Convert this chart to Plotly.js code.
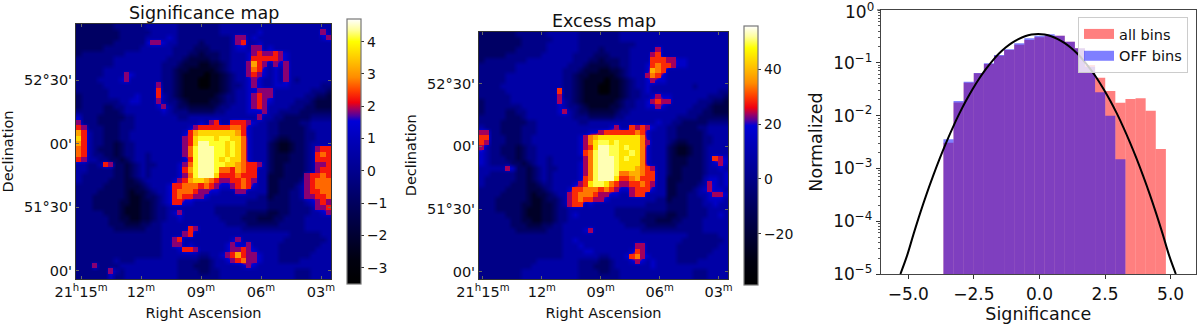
<!DOCTYPE html>
<html><head><meta charset="utf-8">
<script src="https://cdn.plot.ly/plotly-3.0.1.min.js"></script>
<style>html,body{margin:0;padding:0;background:#fff}#c{width:1200px;height:325px}</style>
</head><body><div id="c"></div>
<script>
// Colour map (fraction of the bar, colour)
const heatColors = [
 [0,'#000000'],[0.09,'#00000f'],[0.19,'#000035'],[0.31,'#000060'],[0.43,'#000090'],
 [0.55,'#0000bb'],[0.615,'#0000d8'],[0.635,'#5000a0'],[0.66,'#a00060'],[0.685,'#f00010'],
 [0.73,'#ff4000'],[0.78,'#ff8c00'],[0.84,'#ffc000'],[0.915,'#ffff00'],[0.96,'#ffffa0'],[1,'#ffffff']];

// Levels used by the hand-read map rows below: level code -> map value
const levelCodes = '0123456789abcd';
const sigLevels = [-3.2,-2.3,-1.6,-0.9,-0.2,0.5,1.2,1.85,2.25,2.7,3.1,3.6,4.1,4.4];
const excessLevels = [-35,-24,-16,-8,0,8,16,24,29,34,39,45,50,53];
const hotFrom = 7; // cells at this level or above are drawn as crisp pixels

// Significance map, read row by row from the top (48 columns)
const sigRows = [
'333333344444 455555544444 444555555555 555555555555',
'333333334444 445555544444 444555555565 555555555575',
'333333334444 455556544444 444445775655 555555555567',
'333333344444 467765544443 444445785565 555555555555',
'333334444444 555555444433 344445665775 655555555555',
'344444444555 555555444332 333445556787 787655555555',
'444444455555 555554443222 233445556888 887655555555',
'444444455555 555544432221 122345557a87 576755555555',
'444445555555 555544322111 112345557986 565755555555',
'444445555765 555544321111 011234557876 565755555555',
'444455556755 555544321110 011234556765 565754555555',
'444445555555 555744321110 011234456765 566655555544',
'444444555555 555844321111 111234556677 755555554443',
'344444555556 555854321111 112344556787 755555544332',
'344444445566 555754432111 122344556787 655554443222',
'344443344555 555675433222 223445556787 555544433222',
'444443334555 555565444333 334455556667 554444333333',
'644433333445 555555544555 555555555575 544333334444',
'744433334445 555555555556 578558887655 443333445555',
'874443334445 555555555678 888889986555 443333345555',
'a85443334455 5555555568ab bbbbbba86555 443333344555',
'b85443334455 5555555578bc ccbccbb96555 432233344555',
'a85443323445 5555555578bd dcccbcb96555 321123345555',
'985433323445 5555555579cd ddccbcb96555 321123345788',
'985443323445 5455555579cd ddccbcb96555 322233345898',
'875544332345 5455555568cd ddcbcbb96555 322233345888',
'554458733234 5445555679cd ddccbba98875 322333345778',
'554444433234 545555568acd ddc998a98855 322333345788',
'544444433234 5455555679cd ddb888988855 222333378898',
'544444333223 455555678abb a98778898755 223333478999',
'444443333222 345556889998 987667898655 223334578999',
'444433333212 234556899987 766555775555 223344578899',
'444333333211 233456898877 655555555544 233344577889',
'444333332211 223456886655 555555554444 333344456787',
'444333332111 223445555555 554444444444 333344445778',
'444443332111 223445675555 554444443333 223344445567',
'444444332211 223445565555 555444433322 233444455555',
'444444333222 334455555555 555544443333 334444455555',
'444444433333 344455555875 555555544444 444444455555',
'444444444444 444455557855 555555555555 555544444455',
'444444444444 444455785555 555556755555 555444444445',
'444444444444 444455775655 555567667555 554444444455',
'444444444444 444455568875 555567787655 554444444555',
'444444444444 444455555554 455678a87765 554444445555',
'444444454445 555555544443 345567897765 554444555555',
'444744445555 555555544433 345555567655 555555555555',
'444444754555 555555544443 344555555555 555554445555',
'444444644555 555555544444 444555555555 555554445555'];

// Excess map, read row by row from the top (48 columns)
const excessRows = [
'333333344444 455555544444 444555555555 555555555555',
'333333334444 445555544444 444555555555 555555555555',
'333333334444 455555544444 444444555555 555555555555',
'333333344444 455555544443 444445555575 555555555555',
'333334444444 555555444433 344445555785 555555555555',
'344444444555 555555444332 333445555888 776655555555',
'444444455555 555554443222 233445556898 876655555555',
'444444455555 555544432221 122345556a98 555555555555',
'444445555555 555544322111 112345557986 555555555555',
'444445555555 555544321111 011234556766 555555555555',
'444455555555 555544321110 011234556555 555554555555',
'444445555555 555844321110 011234456555 555555555544',
'444444555555 555744321111 111234455676 655555554443',
'344444555555 555754321111 112344556787 755555444332',
'344444445555 555654432111 122344556676 555554443222',
'344443344555 555675433222 223445555555 555544433222',
'444443334555 555555444333 334455555555 554444333333',
'444433333445 555555544555 555555555565 544333334444',
'544433334445 555555555555 567558787655 443333445555',
'774433334445 555555555667 888888986555 443333345555',
'884443334455 5555555679ab bbbbbbb96555 443333344555',
'874443334455 5555555679bc cbcbbbb97555 432233344555',
'754433323445 5555555678bd dccbcbb96555 321123345555',
'654433323445 5555555689cd dccbbcb96555 321123345555',
'654443323445 5455555579cd ddcbcbb96555 322233345876',
'654444332345 5455555679cd ddcbbbb96555 322233345676',
'555557633234 5445555679cd ddcbbba98755 322333345565',
'554444433234 5455555679cd ddc99aa98855 322333345556',
'544444433234 5455555689cd ddb889a88855 222333356656',
'544444333223 445555678bcc b98778898755 223333457656',
'444443333222 345556889998 987667888655 223334567665',
'444433333212 234557899987 766557885555 223344556776',
'444333333211 233457898877 655555555544 233344456665',
'444333332211 223457885655 555555554444 333344455655',
'444333332111 223445555555 554444444444 333344445555',
'444443332111 223445655555 554444443333 223344445565',
'444444332211 223445555555 555444433322 233444455555',
'444444333222 334455555555 555544443333 334444455555',
'444444433333 344455556755 555555544444 444444455555',
'444444444444 444455555555 555555555555 555544444455',
'444444444444 444455655555 555555555555 555444444445',
'444444444444 444455565555 555555775555 554444444455',
'444444444444 444455556655 555556875555 554444444555',
'444444444444 444455555554 455568976555 554444445555',
'444444444445 555555544443 345556765655 554444555555',
'444444444455 555555544433 345555555655 555555555555',
'444444445555 555555544443 344555555555 555554445555',
'444444445555 555555544444 444555555555 555554445555'];

// Sky axes: RA in minutes past 21h, Dec in arcminutes past 51 deg
const raTicks = [15,12,9,6,3];
const raLabels = ['21<sup>h</sup>15<sup>m</sup>','12<sup>m</sup>','09<sup>m</sup>','06<sup>m</sup>','03<sup>m</sup>'];
const decTicks = [0,30,60,90];
const decLabels = ["00'","51°30'","00'","52°30'"];
const sigRaRange = [15.25,2.5], sigDecRange = [-3.8,116.4];
const excRaRange = [15.2,2.52], excDecRange = [-3.5,115];
const sigBarTicks = [-3,-2,-1,0,1,2,3,4], excBarTicks = [-20,0,20,40];

// Histogram
const histEdgeStart = -3.66, histBinWidth = 0.3855;
const allBins = [0.00307,0.0178,0.0420,0.0631,0.0949,0.1365,0.1747,0.2205,0.2703,0.3035,0.322,0.3266,0.2513,0.188,0.0908,0.0523,0.0292,0.0176,0.0206,0.0212,0.0124,0.00233];
const offBins = [0.00355,0.0189,0.0439,0.0641,0.0977,0.1406,0.18,0.2337,0.2904,0.3266,0.346,0.3266,0.2513,0.188,0.0845,0.0276,0.00997,0.00149];
// Black curve, points
const curveX = [-5.3,-5.05,-4.8,-4.55,-4.3,-4.05,-3.8,-3.55,-3.3,-3.05,-2.8,-2.55,-2.3,-2.05,-1.8,-1.55,-1.3,-1.05,-0.8,-0.55,-0.3,-0.05,0.2,0.45,0.7,0.95,1.2,1.45,1.7,1.95,2.2,2.45,2.7,2.95,3.2,3.45,3.7,3.95,4.2,4.45,4.7,4.95,5.2];
const curveY = [0.00001,0.000022,0.000057,0.000141,0.00033,0.00073,0.00155,0.00312,0.0060,0.0110,0.0191,0.0316,0.0500,0.0751,0.108,0.148,0.192,0.238,0.282,0.319,0.342,0.35,0.342,0.319,0.282,0.238,0.192,0.148,0.108,0.0751,0.0500,0.0316,0.0191,0.0110,0.0060,0.00312,0.00155,0.00073,0.00033,0.000141,0.000057,0.000022,0.00001];
const histTicksX = [-5,-2.5,0,2.5,5];
const histLabelsX = ['−5.0','−2.5','0.0','2.5','5.0'];
const histTicksY = [1e-5,1e-4,1e-3,1e-2,1e-1];
const histLabelsY = ['10<sup>−5</sup>','10<sup>−4</sup>','10<sup>−3</sup>','10<sup>−2</sup>','10<sup>−1</sup>'];
const histTopLabel = '10<sup>0</sup>';

const W = 1200, H = 325;
const font = 'DejaVu Sans, sans-serif';
const fx = (a,b)=>[a/W,b/W], fy = (t,b)=>[1-b/H,1-t/H];

function decode(rows, levels, from){
  return rows.slice().reverse().map(r=>r.replace(/ /g,'').split('').map(c=>{
    const k = levelCodes.indexOf(c);
    return k>=from ? levels[k] : null;
  }));
}
function mapTraces(rows, levels, ra, dec, xa, ya, zr, cbTicks, cb){
  const n=48, m=rows.length;
  const common = {xaxis:xa, yaxis:ya,
    x0: ra[0]+(ra[1]-ra[0])*0.5/n, dx:(ra[1]-ra[0])/n,
    y0: dec[0]+(dec[1]-dec[0])*0.5/m, dy:(dec[1]-dec[0])/m,
    zmin:zr[0], zmax:zr[1], colorscale:heatColors, hoverinfo:'skip'};
  return [
   Object.assign({type:'heatmap', z:decode(rows,levels,0), zsmooth:'best',
    colorbar:{x:cb.x/W, xanchor:'left', xpad:0, ypad:0, y:1-cb.top/H, yanchor:'top',
      thickness:13.5, thicknessmode:'pixels', len:cb.len, lenmode:'pixels',
      tickvals:cbTicks, ticks:'outside', ticklen:3, tickwidth:1, tickcolor:'#333',
      tickfont:{family:font,size:14,color:'#111'}, outlinecolor:'#777', outlinewidth:1.2, borderwidth:0}},common),
   Object.assign({type:'heatmap', z:decode(rows,levels,hotFrom), zsmooth:false, showscale:false, hoverongaps:false},common)
  ];
}
function skyAxis(dom, range, ticks, labels, anchor, title, standoff){
  return {domain:dom, range, anchor, tickmode:'array', tickvals:ticks, ticktext:labels,
    ticks:'inside', ticklen:3, tickwidth:1, tickcolor:'#666', mirror:'ticks', showline:true, linecolor:'#333', linewidth:1,
    showgrid:false, zeroline:false, tickfont:{family:font,size:14.5,color:'#111'},
    title:{text:title, font:{family:font,size:14.5,color:'#111'}, standoff}};
}
const binCenters = n => Array.from({length:n},(_,i)=>histEdgeStart+(i+0.5)*histBinWidth);
const traces = [
  ...mapTraces(sigRows, sigLevels, sigRaRange, sigDecRange,'x','y',[-3.5,4.7],sigBarTicks,{x:346.7,top:19,len:265}),
  ...mapTraces(excessRows, excessLevels, excRaRange, excDecRange,'x2','y2',[-38.5,56],excBarTicks,{x:743.5,top:25.5,len:259}),
  {type:'bar',x:binCenters(allBins.length),y:allBins,width:histBinWidth,xaxis:'x3',yaxis:'y3',
   marker:{color:'rgba(255,0,0,0.5)',line:{width:0}},showlegend:false,hoverinfo:'skip'},
  {type:'bar',x:binCenters(offBins.length),y:offBins,width:histBinWidth,xaxis:'x3',yaxis:'y3',
   marker:{color:'rgba(0,0,255,0.5)',line:{width:0}},showlegend:false,hoverinfo:'skip'},
  {type:'scatter',mode:'lines',x:curveX,y:curveY,xaxis:'x3',yaxis:'y3',line:{color:'#000',width:2,shape:'spline'},showlegend:false,hoverinfo:'skip'},
  {type:'scatter',mode:'lines',x:[null],y:[null],xaxis:'x3',yaxis:'y3',name:'all bins',line:{color:'rgba(255,0,0,0.5)',width:10},hoverinfo:'skip'},
  {type:'scatter',mode:'lines',x:[null],y:[null],xaxis:'x3',yaxis:'y3',name:'OFF bins',line:{color:'rgba(0,0,255,0.5)',width:10},hoverinfo:'skip'}
];
const ann = (text,xc,yc,size)=>({text,xref:'paper',yref:'paper',x:xc/W,y:1-yc/H,xanchor:'center',yanchor:'middle',showarrow:false,font:{family:font,size,color:'#111'}});
const layout = {
  width:W,height:H,margin:{l:0,r:0,t:0,b:0},paper_bgcolor:'#fff',plot_bgcolor:'#fff',barmode:'overlay',
  xaxis:skyAxis(fx(76,331),sigRaRange,raTicks,raLabels,'y','Right Ascension',8),
  yaxis:skyAxis(fy(24,279),sigDecRange,decTicks,decLabels,'x','Declination',6),
  xaxis2:skyAxis(fx(479,728),excRaRange,raTicks,raLabels,'y2','Right Ascension',8),
  yaxis2:skyAxis(fy(31.5,279),excDecRange,decTicks,decLabels,'x2','Declination',6),
  xaxis3:{domain:fx(881,1195.5),range:[-6.04,5.95],anchor:'y3',tickmode:'array',tickvals:histTicksX,ticktext:histLabelsX,
    ticks:'outside',ticklen:4,tickcolor:'#333',showline:true,linecolor:'#444',linewidth:1.2,mirror:true,showgrid:false,zeroline:false,
    tickfont:{family:font,size:17,color:'#111'},title:{text:'Significance',font:{family:font,size:17.5,color:'#111'},standoff:3}},
  yaxis3:{domain:fy(10,274),type:'log',range:[-5,0],anchor:'x3',tickmode:'array',tickvals:histTicksY,ticktext:histLabelsY,
    ticks:'outside',ticklen:4,tickcolor:'#333',showline:true,linecolor:'#444',linewidth:1.2,mirror:true,showgrid:false,zeroline:false,
    minor:{ticks:'outside',ticklen:2,tickcolor:'#555',dtick:'D1',showgrid:false},
    tickfont:{family:font,size:17,color:'#111'},title:{text:'Normalized',font:{family:font,size:17.5,color:'#111'},standoff:6}},
  legend:{x:1188/W,xanchor:'right',y:1-17/H,yanchor:'top',bgcolor:'rgba(255,255,255,0.8)',bordercolor:'#ccc',borderwidth:1,
    font:{family:font,size:14.5,color:'#111'},itemclick:false,itemdoubleclick:false},
  shapes:[{type:'line',xref:'paper',yref:'paper',x0:877/W,x1:881/W,y0:1-10/H,y1:1-10/H,line:{color:'#333',width:1}}],
  annotations:[ann('Significance map',204,13,17.5),ann('Excess map',604,21,17.5),
    {text:histTopLabel,xref:'paper',yref:'paper',x:876/W,y:1-11/H,xanchor:'right',yanchor:'middle',showarrow:false,font:{family:font,size:17,color:'#111'}}]
};
Plotly.newPlot('c',traces,layout,{displayModeBar:false,staticPlot:true});
</script></body></html>
